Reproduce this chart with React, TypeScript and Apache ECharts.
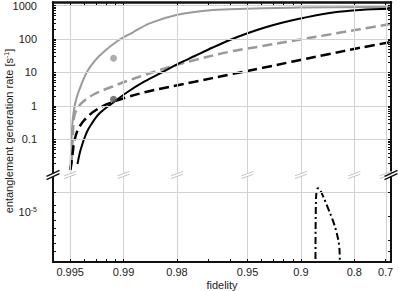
import React, { useEffect, useRef } from 'react';
import * as echarts from 'echarts';

// ---- axis ticks (fidelity axis is log10(1 - fidelity)) ----
const fidelityTicks = [0.995, 0.99, 0.98, 0.95, 0.9, 0.8, 0.7];
const fidelityMinorTicks = [0.994, 0.993, 0.992, 0.991, 0.97, 0.96, 0.94, 0.93, 0.92, 0.91];
const fidelityRange = [0.996, 0.678];

const rateTicks = [0.1, 1, 10, 100, 1000];
const rateMinorTicks = [
  0.02, 0.03, 0.04, 0.05, 0.06, 0.07, 0.08, 0.09,
  0.2, 0.3, 0.4, 0.5, 0.6, 0.7, 0.8, 0.9,
  2, 3, 4, 5, 6, 7, 8, 9,
  20, 30, 40, 50, 60, 70, 80, 90,
  200, 300, 400, 500, 600, 700, 800, 900,
];
const topLogRange = [-2.03, 3.104];
const lowLogRange = [-7.415, -3.22];
const lowTickExps = [-4, -4.625, -5, -5.375, -5.75, -6.125, -6.5, -6.875];
const lowRightTickExps = [-4, -5.2, -6.34, -6.91];
const lowLabelExps = [-5];
const lowGridExps = [-4];

// ---- series ----
const greySolidFid = [0.99498, 0.99487, 0.99475, 0.99457, 0.99421, 0.99374, 0.99314, 0.99229, 0.99075, 0.98876, 0.98598, 0.98015, 0.96816, 0.95067, 0.90129, 0.6776];
const greySolidRate = [0.0141, 0.241, 0.76, 1.73, 4.53, 11.1, 22.0, 40.9, 87.1, 156, 294, 520, 734, 802, 871, 902];

const greyDashedFid = [0.99492, 0.99482, 0.99471, 0.99423, 0.99314, 0.99148, 0.98942, 0.98686, 0.98367, 0.97974, 0.97482, 0.96028, 0.94134, 0.90953, 0.8603, 0.8228, 0.78456, 0.68174];
const greyDashedRate = [0.0173, 0.136, 0.539, 1.2, 2.28, 3.69, 5.69, 8.42, 12.3, 17.3, 23.6, 41.8, 59.7, 89.0, 132, 165, 195, 280];

const blackSolidFid = [0.9945, 0.99428, 0.99384, 0.99341, 0.99268, 0.99133, 0.98947, 0.98686, 0.98361, 0.97982, 0.97482, 0.96816, 0.96028, 0.95046, 0.9374, 0.92089, 0.89737, 0.84834, 0.78456, 0.6776];
const blackSolidRate = [0.0186, 0.0486, 0.153, 0.29, 0.605, 1.23, 2.62, 5.39, 10.0, 17.9, 31.1, 55.7, 93.3, 146, 220, 311, 424, 618, 734, 797];

const blackDashedFid = [0.99498, 0.99485, 0.99471, 0.99436, 0.99358, 0.99236, 0.9911, 0.98947, 0.98686, 0.98361, 0.97982, 0.97482, 0.96028, 0.939, 0.90988, 0.85975, 0.78456, 0.6776];
const blackDashedRate = [0.0123, 0.0345, 0.0966, 0.241, 0.539, 1.0, 1.38, 1.86, 2.56, 3.33, 4.18, 5.28, 8.72, 13.8, 21.3, 34.5, 54.6, 81.4];

const dotFid = [0.99122, 0.99122];
const dotRate = [26.5, 1.58];
const dotColors = ['#999999', '#555555'];

const dashDotFid = [0.87923, 0.87906, 0.87844, 0.87764, 0.87637, 0.87476, 0.87196, 0.86634, 0.85419, 0.84438, 0.83756, 0.83499, 0.83392];
const dashDotRate = [1e-8, 1.4e-6, 4.07e-5, 1e-4, 1.4e-4, 1.51e-4, 1.32e-4, 5.9e-5, 9.46e-6, 2.03e-6, 4.56e-7, 1.48e-7, 1e-8];

const FONT = 'Liberation Sans, Arial, sans-serif';
const TXT = '#222';

const fx = (f: number) => Math.log10(1 - f);
const pts = (fs: number[], rs: number[]) => fs.map((f, i) => [fx(f), Math.log10(rs[i])]);

export default function App() {
  const ref = useRef<HTMLDivElement>(null);

  useEffect(() => {
    const chart = echarts.init(ref.current!, null, { renderer: 'svg' });
    const xMin = fx(fidelityRange[0]);
    const xMax = fx(fidelityRange[1]);
    const majorX = fidelityTicks.map(fx);
    const allX = [...fidelityTicks, ...fidelityMinorTicks].map(fx);
    const majorY = rateTicks.map((r) => Math.log10(r));
    const allY = [...rateTicks, ...rateMinorTicks].map((r) => Math.log10(r));

    const axisLine = (w: number) => ({ show: true, onZero: false, lineStyle: { color: '#111', width: w } });
    const tick = (vals: number[]) => ({ show: true, inside: true, length: 3, customValues: vals, lineStyle: { color: '#111', width: 1 } });
    const gridLineStyle = { color: '#d2d2d2', width: 1, type: 'solid' };
    const curve = (name: string, fs: number[], rs: number[], color: string, width: number, type: any) => ({
      name, type: 'line', xAxisIndex: 0, yAxisIndex: 0, showSymbol: false, smooth: 0.35,
      data: pts(fs, rs), lineStyle: { color, width, type },
    });

    const option: any = {
      animation: false,
      backgroundColor: '#fff',
      textStyle: { fontFamily: FONT },
      grid: [
        { left: 53, right: 8, top: 2, height: 172 },
        { left: 53, right: 8, top: 176, height: 86 },
      ],
      xAxis: [
        {
          gridIndex: 0, type: 'value', position: 'top', min: xMin, max: xMax, z: 5,
          axisLine: axisLine(2.5), axisTick: tick(allX), axisLabel: { show: false }, splitLine: { show: false },
        },
        {
          gridIndex: 1, type: 'value', position: 'bottom', min: xMin, max: xMax, z: 5,
          axisLine: axisLine(2), axisTick: tick(allX), splitLine: { show: false },
          axisLabel: {
            show: true, customValues: majorX, margin: 4, fontSize: 11, color: TXT, fontFamily: FONT,
            formatter: (v: number) => String(Number((1 - Math.pow(10, v)).toFixed(3))),
          },
          name: 'fidelity', nameLocation: 'middle', nameGap: 17,
          nameTextStyle: { fontSize: 11, color: TXT, fontFamily: FONT },
        },
      ],
      yAxis: [
        {
          gridIndex: 0, type: 'value', position: 'left', min: topLogRange[0], max: topLogRange[1], z: 5,
          axisLine: axisLine(2), axisTick: tick(allY), splitLine: { show: false },
          axisLabel: {
            show: true, customValues: majorY, margin: 16, fontSize: 11, color: TXT, fontFamily: FONT,
            formatter: (v: number) => {
              const r = Math.pow(10, v);
              return r < 1 ? r.toFixed(1) : String(Math.round(r));
            },
          },
        },
        {
          gridIndex: 0, type: 'value', position: 'right', min: topLogRange[0], max: topLogRange[1], z: 5,
          axisLine: axisLine(2), axisTick: tick(allY), splitLine: { show: false }, axisLabel: { show: false },
        },
        {
          gridIndex: 1, type: 'value', position: 'left', min: lowLogRange[0], max: lowLogRange[1], z: 5,
          axisLine: axisLine(2), axisTick: tick(lowTickExps), splitLine: { show: false },
          axisLabel: {
            show: true, customValues: lowLabelExps, margin: 16, color: TXT, fontFamily: FONT,
            formatter: (v: number) => '{a|10}{b|' + Math.round(v) + '}',
            rich: {
              a: { fontSize: 11, color: TXT, fontFamily: FONT },
              b: { fontSize: 7, color: TXT, fontFamily: FONT, verticalAlign: 'top', padding: [0, 0, 6, 0] },
            },
          },
        },
        {
          gridIndex: 1, type: 'value', position: 'right', min: lowLogRange[0], max: lowLogRange[1], z: 5,
          axisLine: axisLine(2), axisTick: tick(lowRightTickExps), splitLine: { show: false }, axisLabel: { show: false },
        },
      ],
      series: [
        {
          type: 'line', xAxisIndex: 0, yAxisIndex: 0, data: [], z: 1, silent: true,
          markLine: {
            silent: true, symbol: ['none', 'none'], label: { show: false }, lineStyle: gridLineStyle,
            emphasis: { disabled: true }, animation: false,
            data: [...majorX.map((v) => ({ xAxis: v })), ...majorY.map((v) => ({ yAxis: v }))],
          },
        },
        {
          type: 'line', xAxisIndex: 1, yAxisIndex: 2, data: [], z: 1, silent: true,
          markLine: {
            silent: true, symbol: ['none', 'none'], label: { show: false }, lineStyle: gridLineStyle,
            emphasis: { disabled: true }, animation: false,
            data: [...majorX.map((v) => ({ xAxis: v })), ...lowGridExps.map((v) => ({ yAxis: v }))],
          },
        },
        curve('grey solid', greySolidFid, greySolidRate, '#9a9a9a', 2, 'solid'),
        curve('grey dashed', greyDashedFid, greyDashedRate, '#9a9a9a', 2.5, [10, 5]),
        curve('black solid', blackSolidFid, blackSolidRate, '#000', 2, 'solid'),
        curve('black dashed', blackDashedFid, blackDashedRate, '#000', 2.5, [10, 5]),
        {
          name: 'points', type: 'scatter', xAxisIndex: 0, yAxisIndex: 0, symbolSize: 7, z: 3,
          data: dotFid.map((f, i) => ({ value: [fx(f), Math.log10(dotRate[i])], itemStyle: { color: dotColors[i] } })),
        },
        {
          name: 'dash dot', type: 'line', xAxisIndex: 1, yAxisIndex: 2, showSymbol: false, smooth: 0.3,
          data: pts(dashDotFid, dashDotRate), lineStyle: { color: '#000', width: 2, type: [7, 3, 2, 3] },
        },
      ],
      graphic: [
        {
          type: 'text', x: 9, y: 131, rotation: Math.PI / 2, z: 10,
          style: {
            text: '{a|entanglement generation rate [s}{b|-1}{a|]}',
            align: 'center', verticalAlign: 'middle',
            rich: {
              a: { fontSize: 11, fill: TXT, fontFamily: FONT },
              b: { fontSize: 7, fill: TXT, fontFamily: FONT, verticalAlign: 'top', padding: [0, 0, 6, 0] },
            },
          },
        },
      ],
    };
    chart.setOption(option);

    // break marks between the two panels
    const yc = 175;
    const g: any[] = [];
    const mark = (x: number, hw: number, hh: number, sep: number, color: string, w: number) => {
      g.push({
        type: 'polygon', z: 50, silent: true,
        shape: { points: [[x - hw, yc - sep + hh], [x + hw, yc - sep - hh], [x + hw, yc + sep - hh], [x - hw, yc + sep + hh]] },
        style: { fill: '#fff' },
      });
      [-sep, sep].forEach((s) => {
        g.push({
          type: 'line', z: 51, silent: true,
          shape: { x1: x - hw, y1: yc + s + hh, x2: x + hw, y2: yc + s - hh },
          style: { stroke: color, lineWidth: w },
        });
      });
    };
    majorX.forEach((v) => {
      const px = chart.convertToPixel({ xAxisIndex: 1 }, v) as number;
      mark(px, 6, 2.2, 1.4, '#c4c4c4', 1);
    });
    [xMin, xMax].forEach((v) => {
      const px = chart.convertToPixel({ xAxisIndex: 1 }, v) as number;
      mark(px, 6.5, 3, 1.6, '#111', 1.5);
    });
    chart.setOption({ graphic: [...option.graphic, ...g] });

    return () => chart.dispose();
  }, []);

  return <div ref={ref} style={{ position: 'fixed', left: 0, top: 0, width: 399, height: 291, background: '#fff' }} />;
}
